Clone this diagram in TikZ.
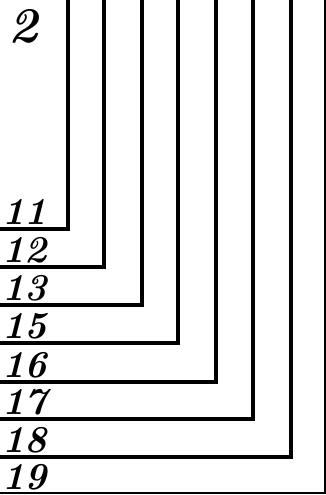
\documentclass[tikz,border=0pt]{standalone}
\begin{document}
\begin{tikzpicture}[x=1pt,y=-1pt,
 wall/.style={line width=3.6pt,line join=miter},
 rim/.style={line width=1.2pt},
 tag/.style={font=\fontsize{38}{42}\selectfont\bfseries\itshape,anchor=base west,inner sep=0pt}]
\path[use as bounding box] (0,0) rectangle (326,495);
% every wall drops from the top edge and turns left to the margin
\foreach \num/\cx/\cy in {11/68/229,12/104/267,13/142/305,15/178/343,
                         16/216/382,17/253/419,18/291/457}{
  \coordinate (k\num) at (\cx,\cy);
  \draw[wall] (\cx,-3) |- (-3,\cy);
  \node[tag] (t\num) at (2,\cy-5) {\num};
}
% the outer rim is drawn thin
\coordinate (k19) at (325,493);
\draw[rim] (325,0) |- (0,493);
\node[tag] (t19) at (2,489) {19};
\node[tag,font=\fontsize{50}{54}\selectfont\bfseries\itshape] (t2) at (8,43) {2};
\end{tikzpicture}
\end{document}
